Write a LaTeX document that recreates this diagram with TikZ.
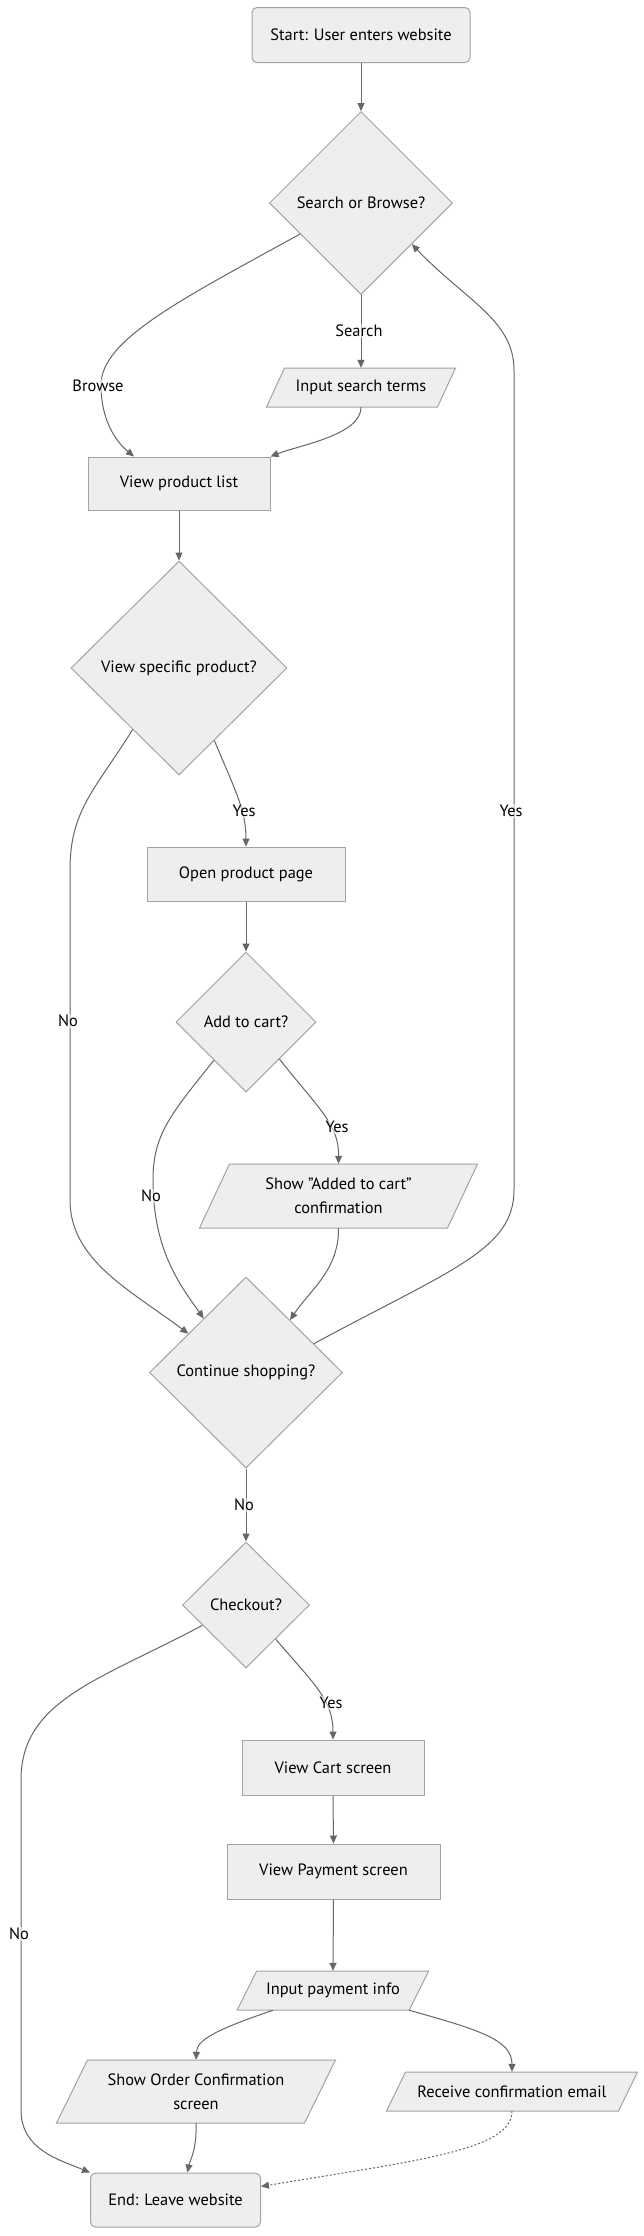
\documentclass[tikz,border=0pt]{standalone}
\usepackage{fontspec}
\setmainfont{PT Sans}
\usetikzlibrary{shapes.geometric,arrows.meta,calc}
\definecolor{nfill}{HTML}{EEEEEE}
\definecolor{nline}{HTML}{A3A3A3}
\definecolor{eline}{HTML}{666666}
\newcommand{\paranode}[7]{%
  \filldraw[fill=nfill,draw=nline,line width=1pt]
    (#2-#4/2+#6/2, #3-#5/2) -- (#2+#4/2+#6/2, #3-#5/2) --
    (#2+#4/2-#6/2, #3+#5/2) -- (#2-#4/2-#6/2, #3+#5/2) -- cycle;
  \node[txt, minimum width=#4pt, minimum height=#5pt, inner sep=0pt] (#1) at (#2,#3) {#7};
}
\begin{document}
\begin{tikzpicture}[x=1pt,y=-1pt,
  txt/.style={font=\fontsize{16.4}{24}\selectfont, text=black, align=center},
  boxnode/.style={txt, draw=nline, fill=nfill, line width=1pt, inner sep=0pt, rectangle},
  roundnode/.style={boxnode, rounded corners=5pt},
  decnode/.style={txt, draw=nline, fill=nfill, line width=1pt, diamond, inner sep=0pt, aspect=1},
  flow/.style={draw=eline, line width=1pt, -{Triangle[length=8pt,width=7pt]}},
  dotflow/.style={flow, dash pattern=on 2pt off 2pt},
  lbl/.style={txt, fill=white, fill opacity=0.55, text opacity=1, inner sep=1pt},
]
\useasboundingbox[fill=white] (0,0) rectangle (643,2236);

% nodes
\node[roundnode, minimum width=218pt, minimum height=55pt] (start) at (361,35) {Start: User enters website};
\node[decnode, minimum width=183pt, minimum height=183pt] (dSB) at (361,203) {Search or Browse?};
\paranode{pIST}{361}{387.5}{171}{39}{18}{Input search terms}
\node[boxnode, minimum width=182pt, minimum height=53pt] (vpl) at (179,483.5) {View product list};
\node[decnode, minimum width=216pt, minimum height=214pt] (dVS) at (179,668) {View specific product?};
\node[boxnode, minimum width=198pt, minimum height=54pt] (opp) at (246,874) {Open product page};
\node[decnode, minimum width=140pt, minimum height=140pt] (dAC) at (246,1022) {Add to cart?};
\paranode{pSAC}{338.5}{1196}{248}{64}{30}{Show \char"0022 Added to cart\char"0022\\confirmation}
\node[decnode, minimum width=193pt, minimum height=191pt] (dCS) at (246,1372.5) {Continue shopping?};
\node[decnode, minimum width=127pt, minimum height=126pt] (dCO) at (246,1605) {Checkout?};
\node[boxnode, minimum width=182pt, minimum height=55pt] (vcs) at (333,1767.5) {View Cart screen};
\node[boxnode, minimum width=213pt, minimum height=55pt] (vps) at (333.5,1871.5) {View Payment screen};
\paranode{pIPI}{333}{1990.5}{172}{39}{19.5}{Input payment info}
\paranode{pSOC}{196}{2091.5}{248}{63}{31}{Show Order Confirmation\\screen}
\paranode{pRCE}{512}{2091.5}{232}{39}{19}{Receive confirmation email}
\node[roundnode, minimum width=170pt, minimum height=54pt] (end) at (175.5,2200) {End: Leave website};

% edges
\draw[flow] (start.south) -- (dSB.north);
\draw[flow] (dSB.south) -- (pIST.north);
\draw[flow] (dSB.207) .. controls (180,300) and (101,340) .. (101,385)
  .. controls (101,425) and (120,445) .. ($(vpl.north)+(-45,0)$);
\draw[flow] (pIST.south) .. controls (361,435) and (300,445) .. (vpl.north east);
\draw[flow] (vpl.south) -- (dVS.north);
\draw[flow] (dVS.296) .. controls (235,790) and (246,810) .. (opp.north);
\draw[flow] (dVS.233) .. controls (95,790) and (70,810) .. (70,870) -- (70,1200)
  .. controls (70,1260) and (130,1290) .. (dCS.146);
\draw[flow] (opp.south) -- (dAC.north);
\draw[flow] (dAC.312) .. controls (320,1110) and (339,1125) .. (pSAC.north);
\draw[flow] (dAC.230) .. controls (170,1115) and (153,1135) .. (153,1180)
  .. controls (153,1250) and (180,1285) .. (dCS.128);
\draw[flow] (pSAC.south) .. controls (339,1270) and (310,1290) .. (dCS.50);
\draw[flow] (dCS.23) .. controls (450,1270) and (514,1250) .. (514,1190) -- (514,370)
  .. controls (514,320) and (465,300) .. (dSB.321);
\draw[flow] (dCS.south) -- (dCO.north);
\draw[flow] (dCO.311) .. controls (315,1685) and (333,1700) .. (vcs.north);
\draw[flow] (dCO.205) .. controls (100,1680) and (21,1700) .. (21,1780) -- (21,2110)
  .. controls (21,2150) and (60,2160) .. (end.north west);
\draw[flow] (vcs.south) -- (vps.north);
\draw[flow] (vps.south) -- (pIPI.north);
\draw[flow] ($(pIPI.south)+(-60,0)$) .. controls (215,2030) and (197,2040) .. (pSOC.north);
\draw[flow] ($(pIPI.south)+(76,0)$) .. controls (480,2030) and (512,2040) .. (pRCE.north);
\draw[flow] (pSOC.south) .. controls (197,2150) and (190,2160) .. ($(end.north)+(12,0)$);
\draw[dotflow] (pRCE.south) .. controls (512,2150) and (420,2160) .. (end.9);

% edge labels
\node[lbl] (lSearch) at (359,331) {Search};
\node[lbl] (lBrowse) at (98,386) {Browse};
\node[lbl] (lYes1) at (244,811) {Yes};
\node[lbl] (lNo1) at (68,1021) {No};
\node[lbl] (lYes2) at (511,811) {Yes};
\node[lbl] (lYes3) at (337,1127) {Yes};
\node[lbl] (lNo2) at (151,1196) {No};
\node[lbl] (lNo3) at (244,1505) {No};
\node[lbl] (lYes4) at (331,1703) {Yes};
\node[lbl] (lNo4) at (19,1934) {No};
\end{tikzpicture}
\end{document}
